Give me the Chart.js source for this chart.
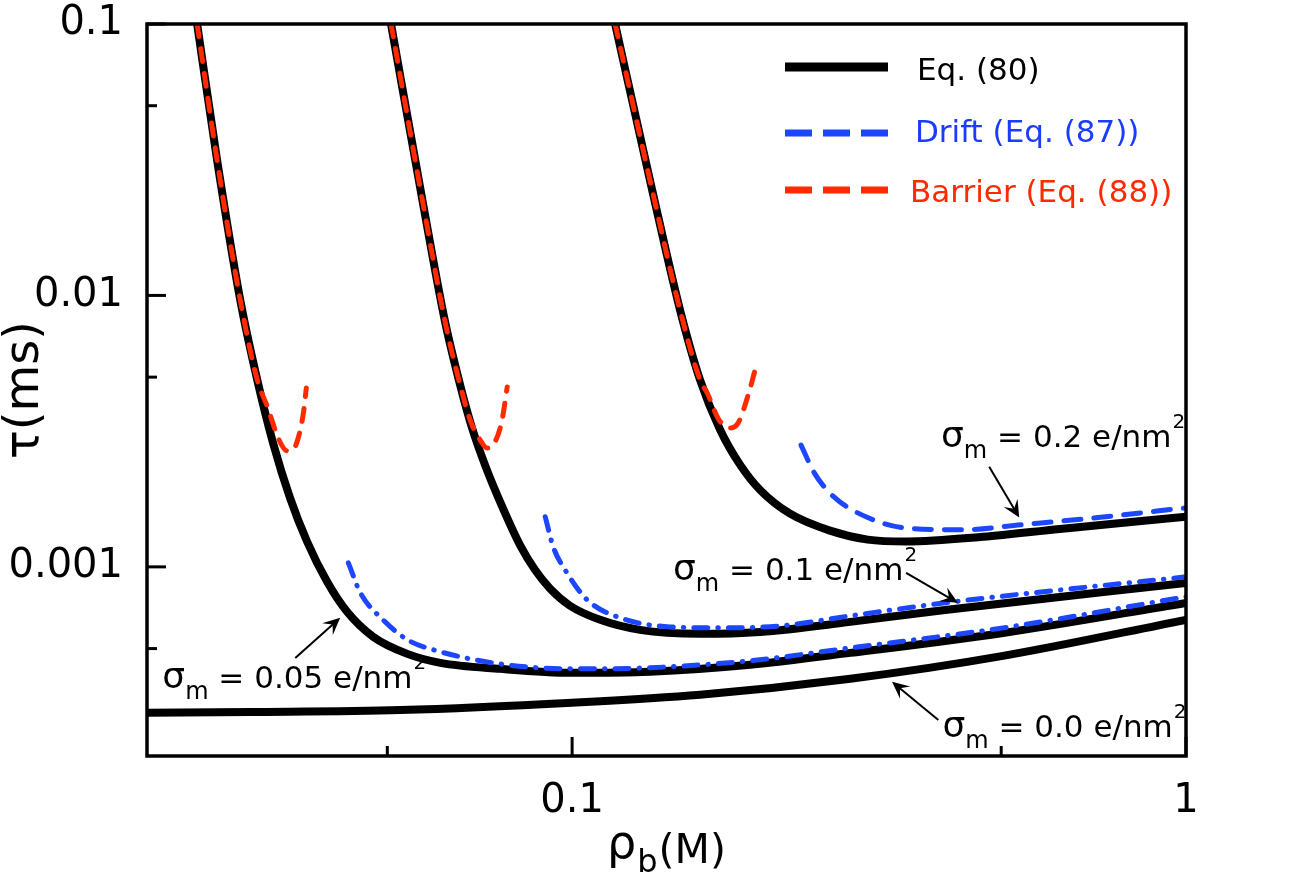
<!DOCTYPE html>
<html><head><meta charset="utf-8">
<script src="https://cdn.jsdelivr.net/npm/chart.js"></script>
<style>html,body{margin:0;padding:0;background:#fff;}#wrap{width:1303px;height:882px;}</style>
</head><body><div id="wrap"><canvas id="c" width="1303" height="882"></canvas></div>
<script>
// ---------------- data (rho_b in M, tau in ms) ----------------
const xTickValues = [0.1, 1];
const xTickLabels = ['0.1', '1'];
const yTickValues = [0.001, 0.01, 0.1];
const yTickLabels = ['0.001', '0.01', '0.1'];
const xMinorTicks = [0.05, 0.5];
const yMinorTicks = [0.0005, 0.005, 0.05];

// Eq. (80)
const rho_eq80_s000 = [0.0203,0.0299,0.0525,0.1,0.1616,0.284,0.5035,1];
const tau_eq80_s000 = [0.000290,0.000292,0.000297,0.000316,0.000338,0.000387,0.000470,0.000638];
const rho_eq80_s005 = [0.0245,0.0264,0.0288,0.0307,0.0326,0.0347,0.0370,0.0399,0.0430,0.0474,0.0539,0.0610,0.0763,0.1,0.134,0.195,0.284,0.5035,1];
const tau_eq80_s005 = [0.1,0.0316,0.00962,0.00488,0.00284,0.00180,0.00124,0.000881,0.000683,0.000553,0.000478,0.000443,0.000421,0.000407,0.000411,0.000436,0.000482,0.000571,0.000737];
const rho_eq80_s010 = [0.0507,0.0576,0.0621,0.0657,0.0687,0.0724,0.0763,0.0823,0.0870,0.0921,0.0992,0.1111,0.129,0.1616,0.2024,0.284,0.405,1];
const tau_eq80_s010 = [0.1,0.0198,0.00799,0.00468,0.00325,0.00232,0.00174,0.00120,0.000975,0.000830,0.000719,0.000638,0.000586,0.000567,0.000576,0.000627,0.000694,0.000873];
const rho_eq80_s020 = [0.1175,0.135,0.1499,0.1616,0.1742,0.1877,0.2024,0.2265,0.263,0.303,0.350,0.467,0.623,1];
const tau_eq80_s020 = [0.1,0.0245,0.00884,0.00488,0.00320,0.00238,0.00192,0.00157,0.00136,0.00126,0.00124,0.00129,0.00138,0.00153];

// Drift (Eq. (87))
const rho_drift_s005 = [0.0432,0.0452,0.0492,0.0539,0.0594,0.0763,0.1,0.134,0.195,0.284,0.5035,1];
const tau_drift_s005 = [0.001034,0.000802,0.000638,0.000539,0.000495,0.000439,0.000421,0.000425,0.000451,0.000503,0.000596,0.000776];
const rho_drift_s010 = [0.0904,0.0931,0.0981,0.1058,0.1197,0.1444,0.1742,0.2182,0.284,0.405,1];
const tau_drift_s010 = [0.00153,0.00119,0.000950,0.000756,0.000649,0.000601,0.000596,0.000606,0.000660,0.000737,0.000919];
const rho_drift_s020 = [0.236,0.248,0.267,0.303,0.350,0.435,0.539,0.719,1];
const tau_drift_s020 = [0.00281,0.00222,0.00181,0.00152,0.00139,0.00137,0.00143,0.00152,0.00165];

// Barrier (Eq. (88))
const rho_barrier_s005 = [0.0245,0.0264,0.0288,0.0307,0.0319,0.0333,0.0343,0.0351,0.0358,0.0365,0.0369];
const tau_barrier_s005 = [0.1,0.0316,0.00962,0.00488,0.00388,0.00294,0.00268,0.00270,0.00299,0.00369,0.00456];
const rho_barrier_s010 = [0.0507,0.0576,0.0621,0.0657,0.0682,0.0708,0.0727,0.0749,0.0769,0.0784];
const tau_barrier_s010 = [0.1,0.0198,0.00799,0.00468,0.00348,0.00294,0.00274,0.00289,0.00348,0.00460];
const rho_barrier_s020 = [0.1175,0.135,0.1499,0.1616,0.166,0.1735,0.181,0.1864,0.194,0.200];
const tau_barrier_s020 = [0.1,0.0245,0.00884,0.00488,0.00437,0.00348,0.00325,0.00339,0.00437,0.00564];

// annotation labels (sigma_m values) and anchors in data units
const sigmaLabels = ['0.05', '0.0', '0.1', '0.2'];
const sigmaLabelRho = [0.0215, 0.401, 0.146, 0.399];
const sigmaLabelTau = [0.000358, 0.000237, 0.000896, 0.00277];
const arrowTailRho = [0.0354, 0.395, 0.350, 0.478];
const arrowTailTau = [0.000462, 0.000273, 0.000950, 0.00234];
const arrowTipRho = [0.0419, 0.332, 0.425, 0.535];
const arrowTipTau = [0.000649, 0.000377, 0.000737, 0.00152];

const legendLabels = ['Eq. (80)', 'Drift (Eq. (87))', 'Barrier (Eq. (88))'];

// ---------------- styling ----------------
const FONT = "'DejaVu Sans', 'Liberation Sans', sans-serif";
const BLACK = '#000000', BLUE = '#1d47ff', RED = '#ff2a00';
const DASHDOT = [14, 10, 0.5, 10];

function ds(label, xs, ys, color, width, dash, order) {
  return {
    label, data: xs.map((v, i) => ({x: v, y: ys[i]})),
    borderColor: color, backgroundColor: color, borderWidth: width,
    borderDash: dash, borderCapStyle: dash.length ? 'round' : 'butt',
    borderJoinStyle: 'round', pointRadius: 0, fill: false,
    cubicInterpolationMode: 'monotone', order
  };
}

const datasets = [
  ds('Eq. (80) σ=0', rho_eq80_s000, tau_eq80_s000, BLACK, 8, [], 3),
  ds('Eq. (80) σ=0.05', rho_eq80_s005, tau_eq80_s005, BLACK, 8, [], 3),
  ds('Eq. (80) σ=0.1', rho_eq80_s010, tau_eq80_s010, BLACK, 8, [], 3),
  ds('Eq. (80) σ=0.2', rho_eq80_s020, tau_eq80_s020, BLACK, 8, [], 3),
  ds('Drift σ=0.05', rho_drift_s005, tau_drift_s005, BLUE, 5, DASHDOT, 2),
  ds('Drift σ=0.1', rho_drift_s010, tau_drift_s010, BLUE, 5, DASHDOT, 2),
  ds('Drift σ=0.2', rho_drift_s020, tau_drift_s020, BLUE, 5, [17, 13], 2),
  ds('Barrier σ=0.05', rho_barrier_s005, tau_barrier_s005, RED, 5, [13, 12], 1),
  ds('Barrier σ=0.1', rho_barrier_s010, tau_barrier_s010, RED, 5, [13, 12], 1),
  ds('Barrier σ=0.2', rho_barrier_s020, tau_barrier_s020, RED, 5, [13, 12], 1),
];

function drawArrow(ctx, x0, y0, x1, y1) {
  ctx.beginPath(); ctx.moveTo(x0, y0);
  const dx = x1 - x0, dy = y1 - y0, L = Math.hypot(dx, dy);
  const ux = dx / L, uy = dy / L, nx = -uy, ny = ux;
  const hl = 17, hw = 8;
  ctx.lineTo(x1 - ux * hl * 0.5, y1 - uy * hl * 0.5);
  ctx.stroke();
  ctx.beginPath();
  ctx.moveTo(x1, y1);
  ctx.lineTo(x1 - ux * hl + nx * hw, y1 - uy * hl + ny * hw);
  ctx.lineTo(x1 - ux * hl * 0.6, y1 - uy * hl * 0.6);
  ctx.lineTo(x1 - ux * hl - nx * hw, y1 - uy * hl - ny * hw);
  ctx.closePath(); ctx.fill();
}

function drawSigmaLabel(ctx, x, y, val) {
  ctx.textAlign = 'left'; ctx.textBaseline = 'alphabetic';
  ctx.font = '36px ' + FONT; ctx.fillText('σ', x, y);
  x += ctx.measureText('σ').width;
  ctx.font = '24px ' + FONT; ctx.fillText('m', x, y + 11);
  x += ctx.measureText('m').width;
  ctx.font = '31px ' + FONT; const t = ' = ' + val + ' e/nm';
  ctx.fillText(t, x, y); x += ctx.measureText(t).width + 1;
  ctx.font = '20px ' + FONT; ctx.fillText('2', x, y - 19);
}

const decorPlugin = {
  id: 'decor',
  afterDatasetsDraw(chart) {
    const {ctx, chartArea: a, scales: {x, y}} = chart;
    ctx.save();
    // frame
    ctx.strokeStyle = '#000'; ctx.lineWidth = 3.5; ctx.setLineDash([]);
    ctx.strokeRect(a.left, a.top, a.right - a.left, a.bottom - a.top);
    // inward ticks
    ctx.lineWidth = 3; ctx.lineCap = 'butt';
    const seg = (x0, y0, x1, y1) => { ctx.beginPath(); ctx.moveTo(x0, y0); ctx.lineTo(x1, y1); ctx.stroke(); };
    xTickValues.forEach(v => { const p = x.getPixelForValue(v); seg(p, a.bottom, p, a.bottom - 19); });
    xMinorTicks.forEach(v => { const p = x.getPixelForValue(v); seg(p, a.bottom, p, a.bottom - 10); });
    yTickValues.forEach(v => { const p = y.getPixelForValue(v); seg(a.left, p, a.left + 19, p); });
    yMinorTicks.forEach(v => { const p = y.getPixelForValue(v); seg(a.left, p, a.left + 10, p); });

    // legend
    const lx0 = a.left + 638, lx1 = a.left + 741, tx = [a.left + 770, a.left + 768, a.left + 763];
    const ly = [a.top + 43, a.top + 109, a.top + 166], tb = [a.top + 56, a.top + 118, a.top + 178];
    const lc = [BLACK, BLUE, RED], lw = [9, 7, 7], ld = [[], [27, 11], [27, 11]];
    ctx.font = '31px ' + FONT; ctx.textAlign = 'left'; ctx.textBaseline = 'alphabetic';
    for (let i = 0; i < 3; i++) {
      ctx.strokeStyle = lc[i]; ctx.lineWidth = lw[i]; ctx.setLineDash(ld[i]);
      seg(lx0, ly[i], lx1, ly[i]);
      ctx.setLineDash([]);
      ctx.fillStyle = i === 1 ? '#1a3cff' : lc[i];
      ctx.fillText(legendLabels[i], tx[i], tb[i]);
    }

    // annotations
    ctx.fillStyle = '#000'; ctx.strokeStyle = '#000'; ctx.lineWidth = 2; ctx.setLineDash([]);
    for (let i = 0; i < sigmaLabels.length; i++) {
      drawSigmaLabel(ctx, x.getPixelForValue(sigmaLabelRho[i]), y.getPixelForValue(sigmaLabelTau[i]), sigmaLabels[i]);
      drawArrow(ctx, x.getPixelForValue(arrowTailRho[i]), y.getPixelForValue(arrowTailTau[i]),
                     x.getPixelForValue(arrowTipRho[i]), y.getPixelForValue(arrowTipTau[i]));
    }

    // x axis title rho_b(M)
    const cx = (a.left + a.right) / 2, base = a.bottom + 107;
    ctx.font = '46px ' + FONT; const w1 = ctx.measureText('ρ').width;
    ctx.font = '32px ' + FONT; const w2 = ctx.measureText('b').width;
    ctx.font = '41px ' + FONT; const w3 = ctx.measureText('(M)').width;
    let sx = cx - (w1 + w2 + w3 + 2) / 2;
    ctx.fillStyle = '#000';
    ctx.font = '46px ' + FONT; ctx.fillText('ρ', sx, base - 5); sx += w1 + 1;
    ctx.font = '32px ' + FONT; ctx.fillText('b', sx, base + 9); sx += w2 + 1;
    ctx.font = '41px ' + FONT; ctx.fillText('(M)', sx, base);
    ctx.restore();
  }
};

new Chart(document.getElementById('c'), {
  type: 'line',
  data: {datasets},
  options: {
    responsive: false, animation: false, devicePixelRatio: 1,
    layout: {padding: {left: 0, top: 24, right: 117, bottom: 0}},
    plugins: {legend: {display: false}, tooltip: {enabled: false}},
    scales: {
      x: {
        type: 'logarithmic', min: 0.0203, max: 1,
        grid: {display: false, drawTicks: false}, border: {display: false},
        afterBuildTicks: s => { s.ticks = xTickValues.map(v => ({value: v})); },
        afterFit: s => { s.height = 126; s.paddingLeft = 0; s.paddingRight = 0; },
        ticks: {autoSkip: false, maxRotation: 0, padding: 26, color: '#000',
                font: {family: FONT, size: 40, lineHeight: 1.0},
                callback: (v, i) => xTickLabels[i]}
      },
      y: {
        type: 'logarithmic', min: 0.000201, max: 0.1,
        grid: {display: false, drawTicks: false}, border: {display: false},
        afterBuildTicks: s => { s.ticks = yTickValues.map(v => ({value: v})); },
        afterFit: s => { s.width = 147; s.paddingTop = 0; s.paddingBottom = 0; },
        ticks: {autoSkip: false, padding: 24, color: '#000',
                font: {family: FONT, size: 40, lineHeight: 1.0},
                callback: (v, i) => yTickLabels[i]},
        title: {display: true, text: 'τ(ms)', color: '#000', padding: {top: 2, bottom: 0},
                font: {family: FONT, size: 48, lineHeight: 1.0}}
      }
    }
  },
  plugins: [decorPlugin]
});
</script></body></html>
